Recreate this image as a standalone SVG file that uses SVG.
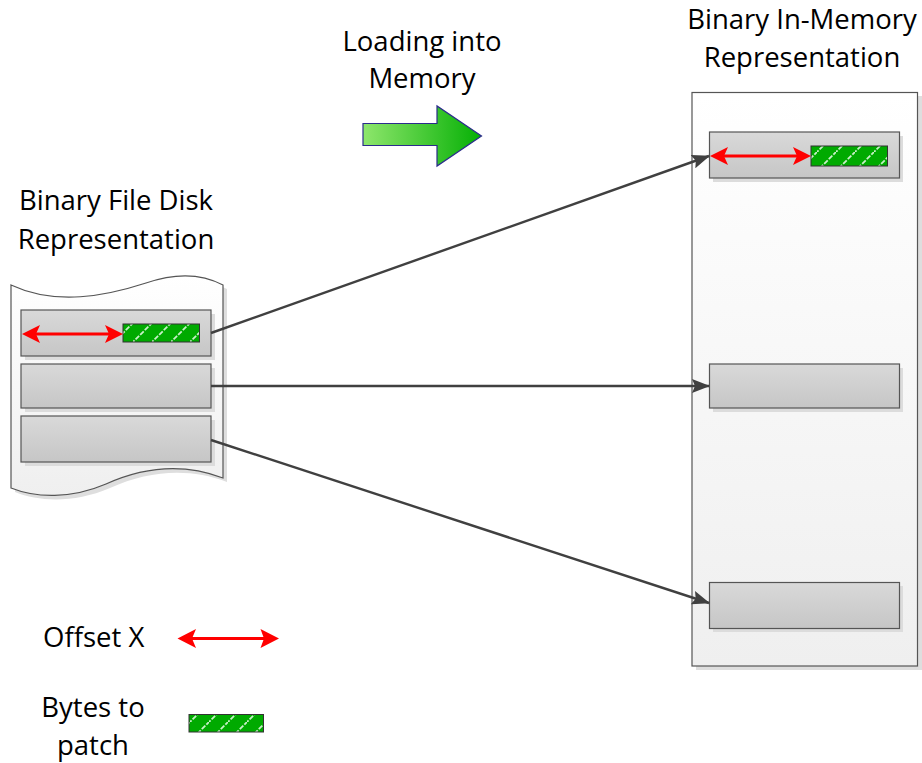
<svg xmlns="http://www.w3.org/2000/svg" width="922" height="763" viewBox="0 0 922 763">
  <style>
    text { font-family: "Open Sans", "Liberation Sans", sans-serif; font-size: 27.5px; fill: #000; }
    .mid { text-anchor: middle; }
    .block { fill: url(#blockFill); stroke: #555; stroke-width: 1.2; }
    .blockShadow { fill: #dcdcdc; }
    .conn { stroke: #404040; stroke-width: 2.4; fill: none; marker-end: url(#connHead); }
    .offset { stroke: #ff0000; stroke-width: 3; fill: none; }
    .offsetHead { fill: #ff0000; }
    .patch { fill: url(#hatch); stroke: #333; stroke-width: 1; }
  </style>
  <defs>
    <linearGradient id="blockFill" x1="0" y1="0" x2="0" y2="1">
      <stop offset="0" stop-color="#d9d9d9"/>
      <stop offset="1" stop-color="#c6c6c6"/>
    </linearGradient>
    <linearGradient id="pageFill" x1="0" y1="0" x2="0" y2="1">
      <stop offset="0" stop-color="#ffffff"/>
      <stop offset="1" stop-color="#efefef"/>
    </linearGradient>
    <linearGradient id="arrowFill" x1="0" y1="0" x2="1" y2="0">
      <stop offset="0" stop-color="#8ee66c"/>
      <stop offset="1" stop-color="#05b005"/>
    </linearGradient>
    <pattern id="hatch" patternUnits="userSpaceOnUse" width="19" height="19">
      <rect width="19" height="19" fill="#00aa00"/>
      <path d="M-2,21 L21,-2" stroke="#c8f0c8" stroke-width="1.8" stroke-dasharray="5 1.5"/>
    </pattern>
    <marker id="connHead" viewBox="0 0 18 14" refX="17" refY="7" markerWidth="18" markerHeight="14" markerUnits="userSpaceOnUse" orient="auto">
      <path d="M0,0 L18,7 L0,14 L3,7 Z" fill="#404040"/>
    </marker>
  </defs>

  <!-- captions -->
  <g id="title-load">
    <text class="mid" x="422" y="51">Loading into</text>
    <text class="mid" x="422" y="88">Memory</text>
  </g>
  <g id="title-memory">
    <text class="mid" x="802" y="29">Binary In-Memory</text>
    <text class="mid" x="802" y="67">Representation</text>
  </g>
  <g id="title-disk">
    <text class="mid" x="116" y="210">Binary File Disk</text>
    <text class="mid" x="116" y="249">Representation</text>
  </g>

  <!-- load arrow -->
  <g id="load-arrow">
    <path d="M363,123.5 H437 V106 L481.5,136 L437,166 V145.5 H363 Z" fill="url(#arrowFill)" stroke="#2b2b8c" stroke-width="1.2"/>
  </g>

  <!-- disk file -->
  <g id="disk-file">
    <path d="M15,289 C60,310 110,300 150,287 C185,275 210,280 227,289 V482 C190,468 150,470 110,488 C75,503 40,502 15,492 Z" fill="#dedede"/>
    <path d="M11,285 C56,306 106,296 146,283 C181,271 206,276 223,285 V478 C186,464 146,466 106,484 C71,499 36,498 11,488 Z" fill="url(#pageFill)" stroke="#555" stroke-width="1.2"/>
    <g id="disk-block-1">
      <rect class="blockShadow" x="25" y="314" width="190" height="46"/>
      <rect class="block" x="21" y="310" width="190" height="46"/>
      <rect class="patch" x="123" y="324" width="76.5" height="18"/>
      <path class="offset" d="M36,334 H109"/>
      <path class="offsetHead" d="M22,334 L40,325 L36,334 L40,343 Z"/>
      <path class="offsetHead" d="M123,334 L105,325 L109,334 L105,343 Z"/>
    </g>
    <g id="disk-block-2">
      <rect class="blockShadow" x="25" y="368" width="190" height="44"/>
      <rect class="block" x="21" y="364" width="190" height="44"/>
    </g>
    <g id="disk-block-3">
      <rect class="blockShadow" x="25" y="420" width="190" height="46"/>
      <rect class="block" x="21" y="416" width="190" height="46"/>
    </g>
  </g>

  <!-- memory image -->
  <g id="memory-image">
    <rect x="696" y="96" width="226" height="574" fill="#dedede"/>
    <rect x="692" y="92.5" width="225.5" height="573.5" fill="url(#pageFill)" stroke="#555" stroke-width="1.2"/>
    <g id="mem-block-1">
      <rect class="blockShadow" x="713" y="136" width="190" height="46"/>
      <rect class="block" x="709.5" y="132" width="190" height="46"/>
      <rect class="patch" x="811" y="146" width="76.5" height="20"/>
      <path class="offset" d="M724,156 H797"/>
      <path class="offsetHead" d="M710,156 L728,147 L724,156 L728,165 Z"/>
      <path class="offsetHead" d="M811,156 L793,147 L797,156 L793,165 Z"/>
    </g>
    <g id="mem-block-2">
      <rect class="blockShadow" x="713" y="368" width="190" height="44"/>
      <rect class="block" x="709.5" y="364" width="190" height="44"/>
    </g>
    <g id="mem-block-3">
      <rect class="blockShadow" x="713" y="586" width="190" height="46"/>
      <rect class="block" x="709.5" y="582.5" width="190" height="46"/>
    </g>
  </g>

  <!-- connectors -->
  <g id="connectors">
    <path class="conn" d="M211,333 L709,156"/>
    <path class="conn" d="M211,386 L709,386"/>
    <path class="conn" d="M211,440 L709,603"/>
  </g>

  <!-- legend -->
  <g id="legend-offset">
    <text x="43" y="647">Offset X</text>
    <path class="offset" d="M192,638.5 H264"/>
    <path class="offsetHead" d="M177.5,638.5 L196,629 L192,638.5 L196,648 Z"/>
    <path class="offsetHead" d="M279,638.5 L260.5,629 L264,638.5 L260.5,648 Z"/>
  </g>
  <g id="legend-patch">
    <text class="mid" x="93" y="717">Bytes to</text>
    <text class="mid" x="93" y="755">patch</text>
    <rect class="patch" x="189" y="714.5" width="74.5" height="17.5"/>
  </g>
</svg>
